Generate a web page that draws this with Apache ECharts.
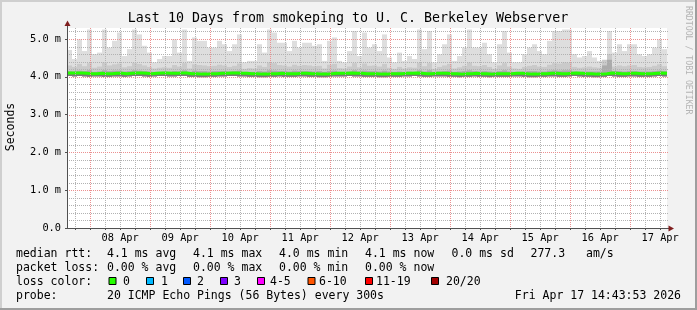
<!DOCTYPE html>
<html><head><meta charset="utf-8">
<script src="https://cdn.jsdelivr.net/npm/echarts@6/dist/echarts.min.js"></script>
<style>html,body{margin:0;padding:0;background:#f2f2f2}#c{width:697px;height:310px}</style>
</head><body><div id="c"></div>
<script>
// time in hours since Apr 7 00:00; graph spans Apr 7 14:43:53 -> Apr 17 14:43:53
const startHour = 14.7314;
const endHour = 254.7314;
const stepHours = 2;

const smokeMax = [4.71,4.47,4.99,4.68,5.25,4.60,4.64,5.25,4.77,4.95,
 5.17,4.55,4.73,5.25,5.12,4.82,4.64,4.38,4.47,4.55,
 4.55,4.99,4.64,5.25,4.42,5.04,4.95,4.95,4.77,4.77,
 4.95,4.86,4.68,4.86,5.12,4.38,4.42,4.42,4.86,4.64,
 5.25,5.17,4.90,4.90,4.68,4.95,4.77,4.90,4.90,4.82,
 4.86,4.42,4.95,5.04,4.42,4.38,4.68,5.21,4.55,5.17,
 4.77,4.86,4.68,5.12,4.51,4.38,4.64,4.42,4.55,4.47,
 5.25,4.73,5.21,4.38,4.60,4.86,5.12,4.42,4.55,4.77,
 5.25,4.77,4.77,4.90,4.60,4.38,4.86,5.21,4.64,4.38,
 4.38,4.60,4.77,4.86,4.68,4.60,4.95,5.21,5.21,5.25,
 5.25,4.60,4.51,4.55,4.68,4.51,4.42,4.42,5.21,4.64,
 4.86,4.68,4.86,4.86,4.60,4.55,4.60,4.77,4.99,4.73];
const smokeHigh = [4.30,4.26,4.34,4.28,4.36,4.24,4.27,4.38,4.30,4.33,
 4.35,4.25,4.28,4.37,4.34,4.30,4.26,4.22,4.24,4.25,
 4.24,4.31,4.27,4.36,4.22,4.33,4.31,4.30,4.28,4.29,
 4.32,4.30,4.26,4.29,4.35,4.21,4.23,4.22,4.30,4.26,
 4.38,4.36,4.31,4.30,4.27,4.32,4.29,4.31,4.30,4.28,
 4.29,4.22,4.32,4.34,4.23,4.22,4.27,4.36,4.25,4.35,
 4.29,4.30,4.27,4.34,4.24,4.21,4.26,4.22,4.25,4.24,
 4.37,4.28,4.36,4.21,4.26,4.30,4.34,4.22,4.25,4.29,
 4.38,4.29,4.28,4.31,4.26,4.21,4.30,4.36,4.27,4.22,
 4.21,4.26,4.29,4.31,4.27,4.26,4.32,4.36,4.35,4.38,
 4.37,4.26,4.24,4.25,4.27,4.25,4.24,4.45,4.60,4.27,
 4.30,4.28,4.30,4.31,4.26,4.25,4.26,4.29,4.33,4.28];
const smokeMid = [4.15,4.14,4.16,4.15,4.17,4.13,4.14,4.17,4.15,4.16,
 4.16,4.14,4.15,4.17,4.16,4.15,4.14,4.13,4.13,4.14,
 4.13,4.15,4.14,4.17,4.13,4.16,4.15,4.15,4.14,4.15,
 4.15,4.15,4.14,4.15,4.16,4.13,4.13,4.13,4.15,4.14,
 4.17,4.16,4.15,4.15,4.14,4.16,4.15,4.15,4.15,4.14,
 4.15,4.13,4.15,4.16,4.13,4.13,4.14,4.17,4.14,4.16,
 4.15,4.15,4.14,4.16,4.14,4.13,4.14,4.13,4.14,4.13,
 4.17,4.14,4.17,4.13,4.14,4.15,4.16,4.13,4.14,4.15,
 4.17,4.15,4.14,4.15,4.14,4.13,4.15,4.17,4.14,4.13,
 4.13,4.14,4.15,4.15,4.14,4.14,4.16,4.17,4.16,4.17,
 4.17,4.14,4.13,4.14,4.14,4.14,4.14,4.30,4.45,4.15,
 4.15,4.14,4.15,4.15,4.14,4.14,4.14,4.15,4.16,4.15];
const medianRtt = [4.10,4.10,4.10,4.09,4.08,4.08,4.09,4.08,4.08,4.09,
 4.09,4.08,4.09,4.10,4.10,4.09,4.08,4.09,4.10,4.10,
 4.09,4.09,4.10,4.10,4.08,4.08,4.07,4.07,4.08,4.08,
 4.09,4.09,4.10,4.10,4.09,4.09,4.08,4.08,4.07,4.07,
 4.08,4.08,4.09,4.08,4.08,4.08,4.09,4.09,4.08,4.08,
 4.07,4.07,4.08,4.09,4.09,4.09,4.10,4.09,4.09,4.08,
 4.08,4.08,4.07,4.07,4.08,4.08,4.08,4.09,4.09,4.10,
 4.09,4.08,4.08,4.09,4.09,4.09,4.08,4.08,4.07,4.08,
 4.08,4.09,4.08,4.08,4.07,4.08,4.08,4.08,4.08,4.09,
 4.09,4.08,4.07,4.07,4.08,4.08,4.09,4.09,4.08,4.08,
 4.09,4.10,4.09,4.08,4.08,4.07,4.07,4.08,4.10,4.09,
 4.08,4.08,4.09,4.09,4.08,4.08,4.08,4.09,4.10,4.09];
const smokeMin = [4.02,4.01,4.02,4.01,4.00,4.01,4.01,4.00,4.00,4.01,
 4.01,4.00,4.01,4.02,4.02,4.01,4.00,4.01,4.02,4.02,
 4.01,4.01,4.02,4.02,4.00,4.00,3.99,3.99,4.00,4.00,
 4.01,4.01,4.02,4.02,4.01,4.01,4.00,4.00,3.99,3.99,
 4.00,4.00,4.01,4.00,4.00,4.00,4.01,4.01,4.00,4.00,
 3.99,3.99,4.00,4.01,4.01,4.01,4.02,4.01,4.01,4.00,
 4.00,4.00,3.99,3.99,4.00,4.00,4.00,4.01,4.01,4.02,
 4.01,4.00,4.00,4.01,4.01,4.01,4.00,4.00,3.99,4.00,
 4.00,4.01,4.00,4.00,3.99,4.00,4.00,4.00,4.00,4.01,
 4.01,4.00,3.99,3.99,4.00,4.00,4.01,4.01,4.00,4.00,
 4.01,4.02,4.01,4.00,4.00,3.99,3.99,4.00,4.02,4.01,
 4.00,4.00,4.01,4.01,4.00,4.00,4.00,4.01,4.02,4.01];

const xLabelHours = [36,60,84,108,132,156,180,204,228,252];
const xLabels = ['08 Apr','09 Apr','10 Apr','11 Apr','12 Apr','13 Apr','14 Apr','15 Apr','16 Apr','17 Apr'];
const yMax = 5.29;
const yMinorStep = 0.2;

const titleText = 'Last 10 Days from smokeping to U. C. Berkeley Webserver';
const rttLine = ['median rtt:', '4.1 ms avg', '4.1 ms max', '4.0 ms min', '4.1 ms now', '0.0 ms sd', '277.3', 'am/s'];
const lossLine = ['packet loss:', '0.00 % avg', '0.00 % max', '0.00 % min', '0.00 % now'];
const lossLabels = ['0','1','2','3','4-5','6-10','11-19','20/20'];
const lossColors = ['#26ff00','#00b8ff','#0059ff','#7e00ff','#ff00ff','#ff5500','#ff0000','#a10000'];
const probeText = '20 ICMP Echo Pings (56 Bytes) every 300s';
const dateText = 'Fri Apr 17 14:43:53 2026';

const colStart = smokeMax.map((_, k) => startHour + k * stepHours);
const gridHours = [];
for (let h = 18; h < endHour; h += 6) gridHours.push(h);
const gridVals = [];
for (let i = 1; i * yMinorStep < yMax; i++) gridVals.push(Math.round(i * yMinorStep * 10) / 10);

const MONO = "'DejaVu Sans Mono', monospace";
const GRID_MINOR = '#b2b2b2';
const GRID_MAJOR = '#eb9090';

function band(lowArr, highArr, color, z) {
  return {
    type: 'custom', z: z, silent: true, clip: true, animation: false,
    data: lowArr.map((lo, k) => [colStart[k], colStart[k] + stepHours, lo, highArr[k]]),
    encode: { x: [0, 1], y: [2, 3] },
    renderItem: function (params, api) {
      const p1 = api.coord([api.value(0), api.value(3)]);
      const p2 = api.coord([api.value(1), api.value(2)]);
      return { type: 'rect', shape: { x: p1[0], y: p1[1], width: p2[0] - p1[0], height: p2[1] - p1[1] }, style: { fill: color } };
    }
  };
}

// dotted grid line as a group of 1px dots (1 on, 1 off)
function dotted(x1, y1, x2, y2, color) {
  const children = [];
  if (x1 === x2) {
    for (let y = Math.round(Math.min(y1, y2)); y < Math.max(y1, y2); y += 2)
      children.push({ type: 'rect', shape: { x: x1, y: y, width: 1, height: 1 }, style: { fill: color } });
  } else {
    for (let x = Math.round(Math.min(x1, x2)); x < Math.max(x1, x2); x += 2)
      children.push({ type: 'rect', shape: { x: x, y: y1, width: 1, height: 1 }, style: { fill: color } });
  }
  return { type: 'group', children: children };
}

const medianData = colStart.map((x, k) => [x, medianRtt[k]]);
medianData.push([endHour, medianRtt[medianRtt.length - 1]]);

const chart = echarts.init(document.getElementById('c'), null, { renderer: 'canvas' });

const G = [];
function txt(x, y, s, opt) {
  G.push(Object.assign({ type: 'text', x: x, y: y, silent: true, z: 100,
    style: Object.assign({ text: s, font: '11.5px ' + MONO, fill: '#000', textVerticalAlign: 'middle', textAlign: 'left' }, (opt && opt.style) || {}) },
    opt && opt.rotation !== undefined ? { rotation: opt.rotation } : {}));
}
G.push({ type: 'rect', shape: { x: 0, y: 0, width: 697, height: 2 }, style: { fill: '#cfcfcf' }, silent: true });
G.push({ type: 'rect', shape: { x: 0, y: 0, width: 2, height: 310 }, style: { fill: '#cfcfcf' }, silent: true });
G.push({ type: 'rect', shape: { x: 0, y: 308, width: 697, height: 2 }, style: { fill: '#9e9e9e' }, silent: true });
G.push({ type: 'rect', shape: { x: 695, y: 0, width: 2, height: 310 }, style: { fill: '#9e9e9e' }, silent: true });
txt(348, 19, titleText, { style: { font: '13.3px ' + MONO, textAlign: 'center' } });
txt(11, 127, 'Seconds', { rotation: Math.PI / 2, style: { textAlign: 'center' } });
txt(688, 6, 'RRDTOOL / TOBI OETIKER', { rotation: -Math.PI / 2, style: { font: '8.2px ' + MONO, fill: '#b4b4b4', textAlign: 'left' } });
const rttX = [16, 107, 193, 279, 365, 451.5, 530.5, 586];
rttLine.forEach((s, i) => txt(rttX[i], 254, s));
const lossX = [16, 107, 193, 279, 365];
lossLine.forEach((s, i) => txt(lossX[i], 268, s));
txt(16, 282, 'loss color:');
const boxX = [108.5, 146, 183, 220, 257, 307.5, 365, 431];
const lblX = [123, 161, 197, 234, 270, 319, 376, 446];
lossLabels.forEach((s, i) => {
  G.push({ type: 'rect', silent: true, z: 100, shape: { x: boxX[i] + 0.5, y: 277.5, width: 7, height: 7 }, style: { fill: lossColors[i], stroke: '#000', lineWidth: 1 } });
  txt(lblX[i], 282, s);
});
txt(16, 296, 'probe:');
txt(107, 296, probeText);
txt(681, 296, dateText, { style: { textAlign: 'right' } });
G.push({ type: 'line', silent: true, z: 100, shape: { x1: 67.5, y1: 28, x2: 67.5, y2: 24 }, style: { stroke: '#505050', lineWidth: 1 } });
G.push({ type: 'polygon', silent: true, z: 101, shape: { points: [[64.5, 26], [70.5, 26], [67.5, 20.5]] }, style: { fill: '#801f1f' } });
G.push({ type: 'line', silent: true, z: 100, shape: { x1: 667, y1: 228.5, x2: 669, y2: 228.5 }, style: { stroke: '#505050', lineWidth: 1 } });
G.push({ type: 'polygon', silent: true, z: 101, shape: { points: [[668.5, 225.5], [668.5, 231.5], [674, 228.5]] }, style: { fill: '#801f1f' } });

const option = {
  backgroundColor: '#f2f2f2',
  animation: false,
  grid: { left: 67, top: 28, width: 600, height: 200, backgroundColor: '#ffffff', show: true, borderWidth: 0 },
  xAxis: {
    type: 'value', min: startHour, max: endHour, z: 6,
    axisLine: { show: true, lineStyle: { color: '#505050', width: 1 } },
    axisTick: { show: true, customValues: gridHours, length: 2, lineStyle: { color: '#505050' } },
    axisLabel: {
      customValues: xLabelHours, margin: 5, fontFamily: MONO, fontSize: 10.3, color: '#000',
      formatter: function (v) { const i = xLabelHours.indexOf(Math.round(v)); return i >= 0 ? xLabels[i] : ''; }
    },
    splitLine: { show: false }
  },
  yAxis: {
    type: 'value', min: 0, max: yMax, interval: 1, z: 6,
    axisLine: { show: true, lineStyle: { color: '#505050', width: 1 } },
    axisTick: { show: true, length: 2, lineStyle: { color: '#505050' } },
    axisLabel: { margin: 6, fontFamily: MONO, fontSize: 10.3, color: '#000',
      showMaxLabel: false,
      formatter: function (v) { return v === 0 ? '0.0' : v.toFixed(1) + ' m'; } },
    splitLine: { show: false }
  },
  series: [
    band(smokeMin, smokeMax, '#dedede', 1),
    band(smokeMin, smokeHigh, '#cacaca', 1),
    band(smokeMin, smokeMid, '#ababab', 1),
    band(smokeMin, medianRtt, '#7a7a7a', 1),
    {
      type: 'line', z: 3, data: medianData, step: 'end', showSymbol: false, silent: true,
      lineStyle: { color: lossColors[0], width: 3 }, clip: true
    },
    {
      type: 'custom', z: 4, silent: true, clip: false,
      data: gridHours.map(h => [h, h % 24 === 0 ? 1 : 0]),
      encode: { x: 0 },
      renderItem: function (params, api) {
        const h = api.value(0);
        const top = api.coord([h, yMax]);
        const bot = api.coord([h, 0]);
        const x = Math.round(top[0]);
        return dotted(x, top[1], x, bot[1], api.value(1) === 1 ? GRID_MAJOR : GRID_MINOR);
      }
    },
    {
      type: 'custom', z: 4, silent: true, clip: false,
      data: gridVals.map(v => [startHour, v, Math.abs(v - Math.round(v)) < 1e-6 ? 1 : 0]),
      encode: { y: 1 },
      renderItem: function (params, api) {
        const v = api.value(1);
        const l = api.coord([startHour, v]);
        const r = api.coord([endHour, v]);
        const y = Math.round(l[1]);
        return dotted(l[0], y, r[0], y, api.value(2) === 1 ? GRID_MAJOR : GRID_MINOR);
      }
    }
  ],
  graphic: { elements: G }
};
chart.setOption(option);
</script></body></html>
